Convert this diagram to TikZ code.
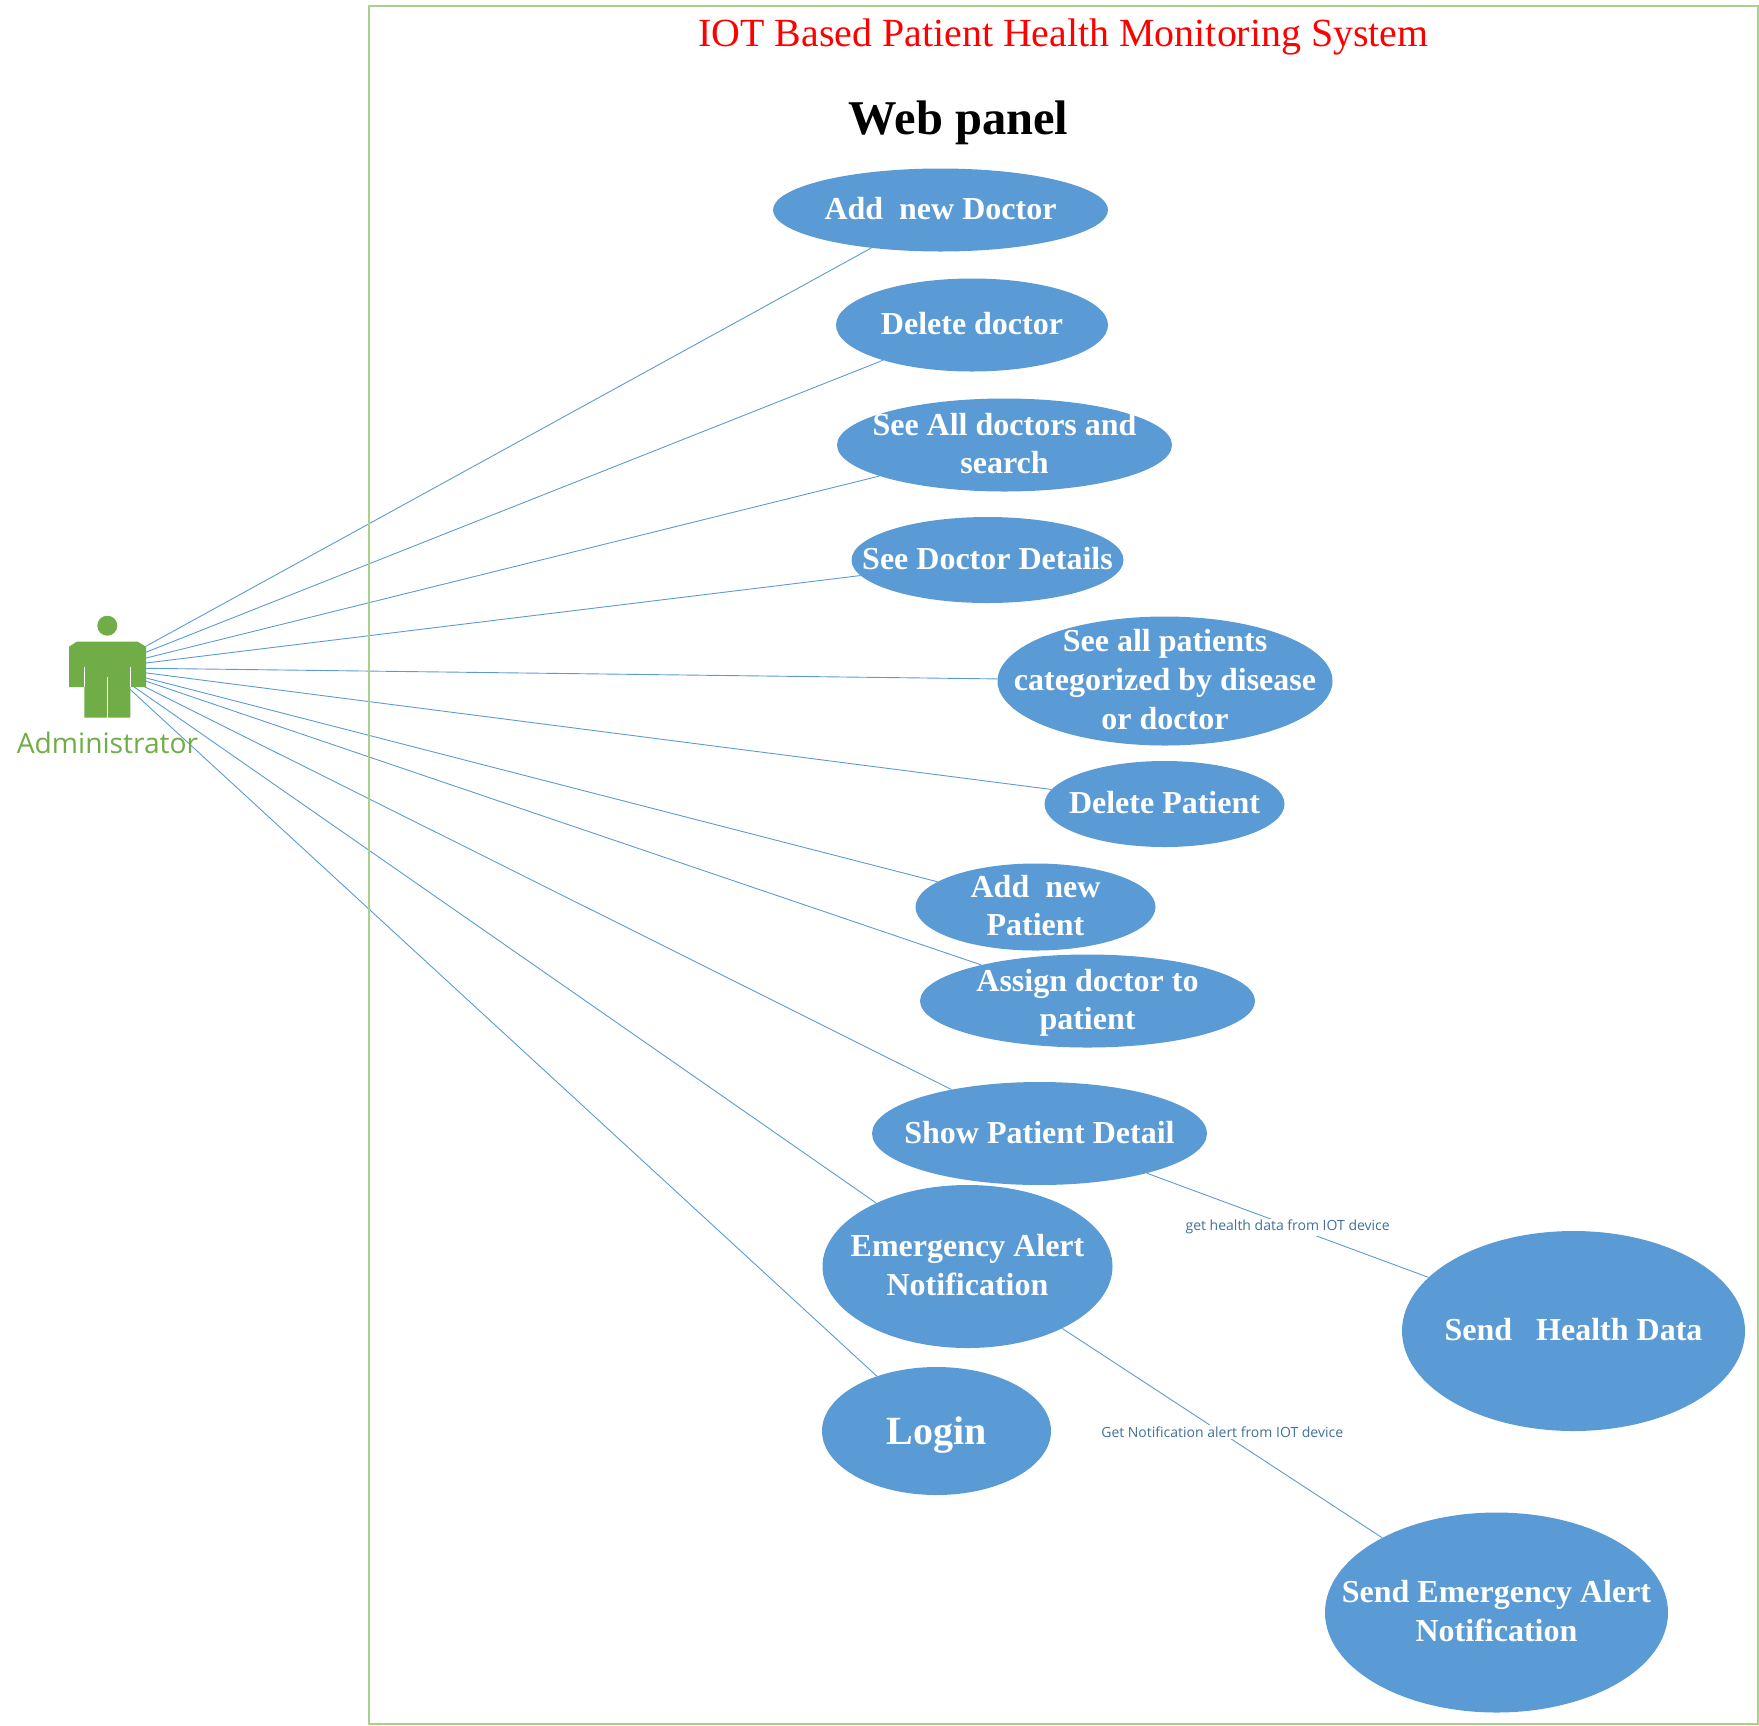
\documentclass[tikz,border=0pt]{standalone}
\usepackage{fontspec}
\setmainfont{Liberation Serif}
\newfontfamily\labelfont{Open Sans}
\usetikzlibrary{shapes.geometric,backgrounds}
\definecolor{ucblue}{HTML}{5B9BD5}
\definecolor{actgreen}{HTML}{70AD47}
\definecolor{framegreen}{HTML}{A9D18E}
\definecolor{edgetext}{HTML}{41719C}
\newcommand\uct[1]{\makebox[0pt]{\smash{\raisebox{-0.25em}{\begin{tabular}{@{}c@{}}#1\end{tabular}}}}}
\tikzset{
  x=1pt,y=-1pt,
  uc/.style={ellipse,fill=ucblue,inner sep=0pt,text=white,
    font=\fontsize{32}{38.7}\selectfont\bfseries},
  conn/.style={draw=ucblue,line width=0.9pt},
  edgelabel/.style={fill=white,inner sep=1.5pt,text=edgetext,
    font=\labelfont\fontsize{14}{16}\selectfont},
  actorshape/.style={fill=actgreen,draw=none},
  gapline/.style={draw=white,line width=0.9pt}
}
\begin{document}
\begin{tikzpicture}
\useasboundingbox (0,0) rectangle (1759,1725);
\node[draw=framegreen,line width=1.3pt,minimum width=1389pt,minimum height=1718pt,inner sep=0pt] (frame) at (1063.5,865) {};
\node[text=red,font=\fontsize{39.9}{46}\selectfont] (title) at (1063.5,36.5) {IOT Based Patient Health Monitoring System};
\node[text=black,font=\fontsize{48.5}{56}\selectfont\bfseries] (web) at (958.5,122.5) {Web panel};

\coordinate (actor) at (106.6,667.8);

\node[uc,minimum width=335pt,minimum height=83pt] (u1) at (940.5,210) {\uct{Add\ \ new Doctor}};
\node[uc,minimum width=272pt,minimum height=93pt] (u2) at (972,325) {\uct{Delete doctor}};
\node[uc,minimum width=335pt,minimum height=93pt] (u3) at (1004.5,445) {\uct{See All doctors and\\search}};
\node[uc,minimum width=272pt,minimum height=86pt] (u4) at (987.5,560) {\uct{See Doctor Details}};
\node[uc,minimum width=335pt,minimum height=129pt] (u5) at (1165,681) {\uct{See all patients\\categorized by disease\\or doctor}};
\node[uc,minimum width=240pt,minimum height=86pt] (u6) at (1164.5,804) {\uct{Delete Patient}};
\node[uc,minimum width=240pt,minimum height=87pt] (u7) at (1035.5,907) {\uct{Add\ \ new\\Patient}};
\node[uc,minimum width=335pt,minimum height=93pt] (u8) at (1087.5,1001) {\uct{Assign doctor to\\patient}};
\node[uc,minimum width=335pt,minimum height=103pt] (u9) at (1039.5,1133.5) {\uct{Show Patient Detail}};
\node[uc,minimum width=290pt,minimum height=163pt] (u10) at (967.5,1266.5) {\uct{Emergency Alert\\Notification}};
\node[uc,minimum width=229pt,minimum height=128pt,font=\fontsize{40}{48}\selectfont\bfseries] (u11) at (936.5,1431) {\uct{Login}};
\node[uc,minimum width=343pt,minimum height=200pt] (u12) at (1573.5,1331) {\uct{Send\ \ \ Health Data}};
\node[uc,minimum width=343pt,minimum height=200pt] (u13) at (1496.5,1612.5) {\uct{Send Emergency Alert\\Notification}};

\begin{scope}[on background layer]
\foreach \t in {u1,u2,u3,u4,u5,u6,u7,u8,u9,u10,u11}{
  \draw[conn] (actor) -- (\t);
}
\draw[conn] (u9) -- node[edgelabel,midway,yshift=-2pt] (l1) {get health data from IOT device} (u12);
\draw[conn] (u10) -- node[edgelabel,midway,yshift=1pt] (l2) {Get Notification alert from IOT device} (u13);
\end{scope}

% actor figure
\fill[actorshape] (107.3,625.7) circle (10);
\fill[actorshape] (76.7,641.7) -- (137.7,641.7) -- (146,646.7) -- (146,687) -- (130.3,687) -- (130.3,717.7) -- (84.3,717.7) -- (84.3,687) -- (69,687) -- (69,646.7) -- cycle;
\draw[gapline] (84.3,666.7) -- (84.3,687);
\draw[gapline] (130.3,666.7) -- (130.3,687);
\draw[gapline] (107.3,676.7) -- (107.3,717.7);
\node[text=actgreen,font=\labelfont\fontsize{28.2}{32}\selectfont] (actorname) at (107.5,743) {Administrator};
\end{tikzpicture}
\end{document}
